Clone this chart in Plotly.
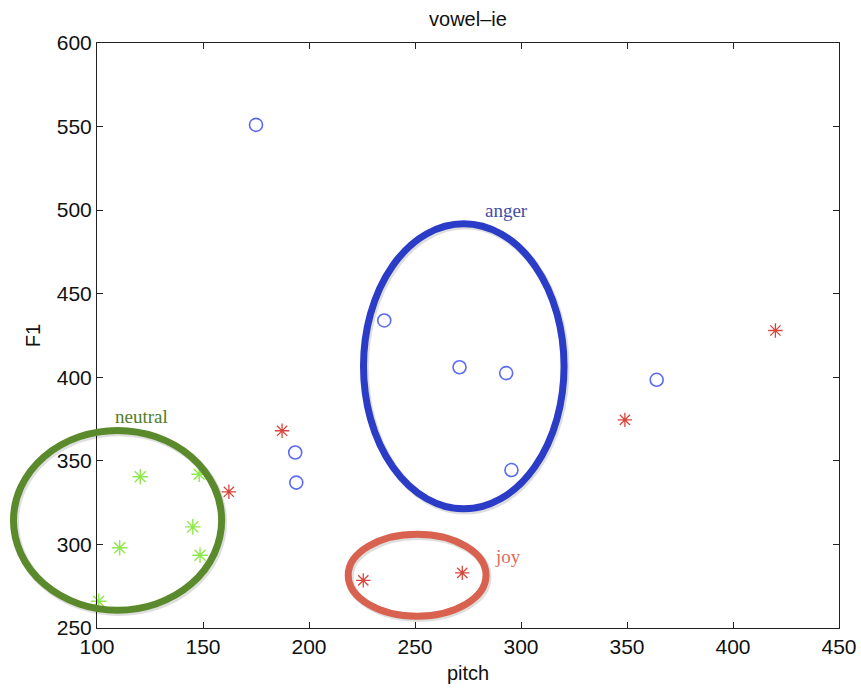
import plotly.graph_objects as go

# Emotion samples for the vowel "ie": pitch (Hz) vs first formant F1 (Hz)
anger_pitch = [175, 235.5, 271, 293, 295.5, 364, 193.5, 194]
anger_f1 = [551, 434, 406, 402.5, 344.5, 398.5, 355, 337]

joy_pitch = [420, 349, 187.3, 162.2, 225.6, 272.3]
joy_f1 = [428, 374.5, 368, 331.5, 278.5, 283]

neutral_pitch = [120.4, 148.2, 145.2, 110.7, 148.6, 100.8]
neutral_f1 = [340.5, 342, 310.5, 298, 293.5, 266]

# Cluster outlines: centre (pitch, F1) and half-widths (pitch, F1)
cluster_names = ["neutral", "anger", "joy"]
cluster_cx = [109.7, 273.0, 251.0]
cluster_cy = [314.4, 406.6, 281.6]
cluster_rx = [49.1, 47.3, 32.5]
cluster_ry = [53.8, 85.3, 24.5]
cluster_colors = ["#5b8a2c", "#2b3cc6", "#d9614f"]

# Cluster label positions (pitch, F1)
label_x = [121.1, 293.3, 293.9]
label_y = [376.4, 499.5, 293.0]
label_colors = ["#4f7d2a", "#3f4ea8", "#e06a5c"]

x_range = [100, 450]
y_range = [250, 600]

SANS = "Liberation Sans, Arial, sans-serif"
SERIF = "Liberation Serif, Times New Roman, serif"

fig = go.Figure()

fig.add_trace(go.Scatter(
    x=anger_pitch, y=anger_f1, mode="markers", name="anger",
    marker=dict(symbol="circle-open", size=13, color="#5a6af5",
                line=dict(width=1.6, color="#5a6af5")),
    cliponaxis=False,
))
fig.add_trace(go.Scatter(
    x=joy_pitch, y=joy_f1, mode="markers", name="joy",
    marker=dict(symbol="asterisk-open", size=12, color="#d8453c",
                line=dict(width=1.3, color="#d8453c")),
    cliponaxis=False,
))
fig.add_trace(go.Scatter(
    x=neutral_pitch, y=neutral_f1, mode="markers", name="neutral",
    marker=dict(symbol="asterisk-open", size=13, color="#8fe84c",
                line=dict(width=1.4, color="#8fe84c")),
    cliponaxis=False,
))


def to_paper_x(v):
    return (v - x_range[0]) / (x_range[1] - x_range[0])


def to_paper_y(v):
    return (v - y_range[0]) / (y_range[1] - y_range[0])


# Ellipses are placed in paper coordinates so they can extend past the axes
shapes = []
for cx, cy, rx, ry, col in zip(cluster_cx, cluster_cy, cluster_rx, cluster_ry, cluster_colors):
    x0, x1 = to_paper_x(cx - rx), to_paper_x(cx + rx)
    y0, y1 = to_paper_y(cy - ry), to_paper_y(cy + ry)
    # soft drop shadow
    shapes.append(dict(type="circle", xref="paper", yref="paper",
                       x0=x0 + 0.002, x1=x1 + 0.002, y0=y0 - 0.003, y1=y1 - 0.003,
                       line=dict(color="rgba(0,0,0,0.13)", width=8), layer="above"))
    shapes.append(dict(type="circle", xref="paper", yref="paper",
                       x0=x0, x1=x1, y0=y0, y1=y1,
                       line=dict(color=col, width=7), layer="above"))

annotations = []
for name, lx, ly, col in zip(cluster_names, label_x, label_y, label_colors):
    annotations.append(dict(x=lx, y=ly, xref="x", yref="y", text=name,
                            showarrow=False,
                            font=dict(family=SERIF, size=19, color=col)))

axis_common = dict(
    showgrid=False, zeroline=False, showline=True, linecolor="#222",
    linewidth=1, mirror="ticks", ticks="inside", ticklen=6, tickcolor="#222",
    automargin=False,
    tickfont=dict(family=SANS, size=21, color="#111"),
)

fig.update_layout(
    width=861, height=688,
    margin=dict(l=97, r=22, t=43, b=60),
    paper_bgcolor="white", plot_bgcolor="white",
    showlegend=False,
    title=dict(text="vowel\u2013ie", x=0.5435, xanchor="center", y=0.972, yanchor="middle",
               font=dict(family=SANS, size=20, color="#111")),
    xaxis=dict(range=x_range, tickvals=[100, 150, 200, 250, 300, 350, 400, 450],
               title=dict(text="pitch", standoff=8,
                          font=dict(family=SANS, size=20, color="#111")),
               **axis_common),
    yaxis=dict(range=y_range, tickvals=[250, 300, 350, 400, 450, 500, 550, 600],
               title=dict(text="F1", standoff=10,
                          font=dict(family=SANS, size=20, color="#111")),
               **axis_common),
    shapes=shapes,
    annotations=annotations,
)

fig.write_html("out.html")
